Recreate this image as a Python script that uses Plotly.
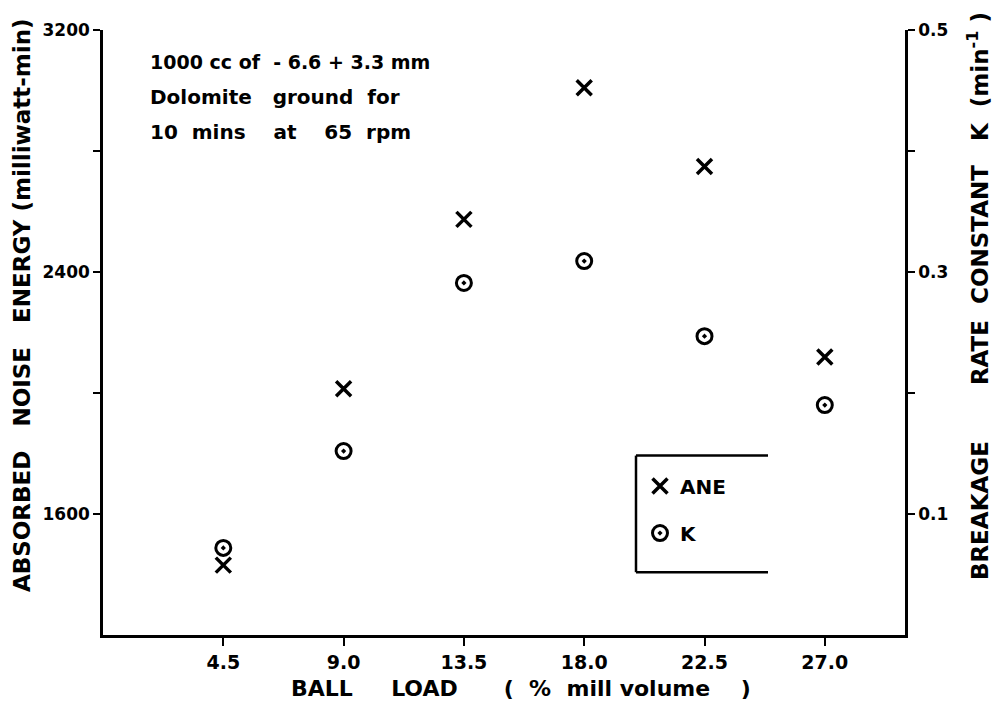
import plotly.graph_objects as go

ball_load = [4.5, 9.0, 13.5, 18.0, 22.5, 27.0]
ane = [1431, 2014, 2574, 3009, 2749, 2119]
k_rate = [0.072, 0.152, 0.291, 0.309, 0.247, 0.190]

x_tickvals = [4.5, 9.0, 13.5, 18.0, 22.5, 27.0]
x_ticktext = ["4.5", "9.0", "13.5", "18.0", "22.5", "27.0"]
y_tickvals = [1600, 2400, 3200]
y_ticktext = ["1600", "2400", "3200"]
y_minor = [2000, 2800]
y2_tickvals = [0.1, 0.3, 0.5]
y2_ticktext = ["0.1", "0.3", "0.5"]
y2_minor = [0.2, 0.4]

FONT = "DejaVu Sans"
NB = "\u00a0"

# page body has an 8px margin: plot area in window pixels is x 103..905, y 28..635
PX0, PX1, PY0, PY1 = 103, 905, 28, 635
PW, PH = PX1 - PX0, PY1 - PY0


def px(x):
    return (x - PX0) / PW


def py(y):
    return (PY1 - y) / PH


def s(n):
    return NB * n


fig = go.Figure()
fig.add_trace(go.Scatter(
    x=ball_load, y=ane, mode="markers", name="ANE", legendgroup="a",
    marker=dict(symbol="x-thin-open", size=15, color="black",
                line=dict(color="black", width=3.5)),
    yaxis="y", cliponaxis=False,
))
fig.add_trace(go.Scatter(
    x=ball_load, y=k_rate, mode="markers", name="K", legendgroup="b",
    marker=dict(symbol="circle-open-dot", size=15, color="black",
                line=dict(color="black", width=3)),
    yaxis="y2", cliponaxis=False,
))

axis_font = dict(family=FONT, size=17, color="black", weight="bold")
tick_common = dict(ticks="outside", ticklen=7, tickwidth=2, tickcolor="black")

fig.update_layout(
    width=984, height=695,
    margin=dict(l=PX0 - 8, r=992 - PX1, t=PY0 - 8, b=703 - PY1),
    paper_bgcolor="white", plot_bgcolor="white",
    showlegend=True,
    legend=dict(x=px(640), y=py(466), xanchor="left", yanchor="top",
                bgcolor="rgba(0,0,0,0)", borderwidth=0,
                font=dict(family=FONT, size=20, color="black", weight="bold"),
                tracegroupgap=18),
    xaxis=dict(range=[0, 30], tickvals=x_tickvals, ticktext=x_ticktext,
               showline=True, linecolor="black", linewidth=2.5, mirror=False,
               ticks="outside", ticklen=8, tickwidth=2, tickcolor="black",
               showgrid=False, zeroline=False,
               tickfont=dict(family=FONT, size=19, color="black", weight="bold")),
    yaxis=dict(range=[1200, 3200], tickvals=y_tickvals, ticktext=y_ticktext,
               showline=True, linecolor="black", linewidth=2.5,
               minor=dict(tickmode="array", tickvals=y_minor, **tick_common),
               showgrid=False, zeroline=False, tickfont=axis_font, **tick_common),
    yaxis2=dict(range=[0, 0.5], tickvals=y2_tickvals, ticktext=y2_ticktext,
                overlaying="y", side="right",
                showline=True, linecolor="black", linewidth=2.5,
                minor=dict(tickmode="array", tickvals=y2_minor, **tick_common),
                showgrid=False, zeroline=False, tickfont=axis_font, **tick_common),
)

# legend frame (open on the right)
lx0, lx1 = px(636), px(768)
ly0, ly1 = py(572), py(455)
for (x0, y0, x1, y1) in [(lx0, ly1, lx1, ly1), (lx0, ly0, lx0, ly1), (lx0, ly0, lx1, ly0)]:
    fig.add_shape(type="line", xref="paper", yref="paper", x0=x0, y0=y0, x1=x1, y1=y1,
                  line=dict(color="black", width=2.5))

fig.add_annotation(text=f"ABSORBED{s(3)}NOISE{s(3)}ENERGY{NB}(milliwatt-min)",
                   xref="paper", yref="paper", x=px(22), y=py(304),
                   textangle=-90, showarrow=False,
                   font=dict(family=FONT, size=23, color="black", weight="bold"),
                   xanchor="center", yanchor="middle")
fig.add_annotation(text=f"BREAKAGE{s(7)}RATE{s(2)}CONSTANT{s(3)}K{s(2)}(min<sup>-1</sup>{NB})",
                   xref="paper", yref="paper", x=px(978), y=py(295),
                   textangle=-90, showarrow=False,
                   font=dict(family=FONT, size=23, color="black", weight="bold"),
                   xanchor="center", yanchor="middle")
fig.add_annotation(text=f"BALL{s(5)}LOAD{s(6)}({s(2)}%{s(2)}mill{NB}volume{s(4)})",
                   xref="paper", yref="paper", x=px(521), y=py(703),
                   showarrow=False, font=dict(family=FONT, size=22, color="black", weight="bold"),
                   xanchor="center", yanchor="bottom")

notes = [f"1000{NB}cc{NB}of{s(2)}-{NB}6.6{NB}+{NB}3.3{NB}mm",
         f"Dolomite{s(3)}ground{s(2)}for",
         f"10{s(2)}mins{s(4)}at{s(4)}65{s(2)}rpm"]
note_sizes = [19, 20, 20]
for i, t in enumerate(notes):
    fig.add_annotation(text=t, xref="paper", yref="paper",
                       x=px(148), y=py(60 + 35 * i),
                       showarrow=False,
                       font=dict(family=FONT, size=note_sizes[i], color="black", weight="bold"),
                       xanchor="left", yanchor="middle")

fig.write_html("out.html")
